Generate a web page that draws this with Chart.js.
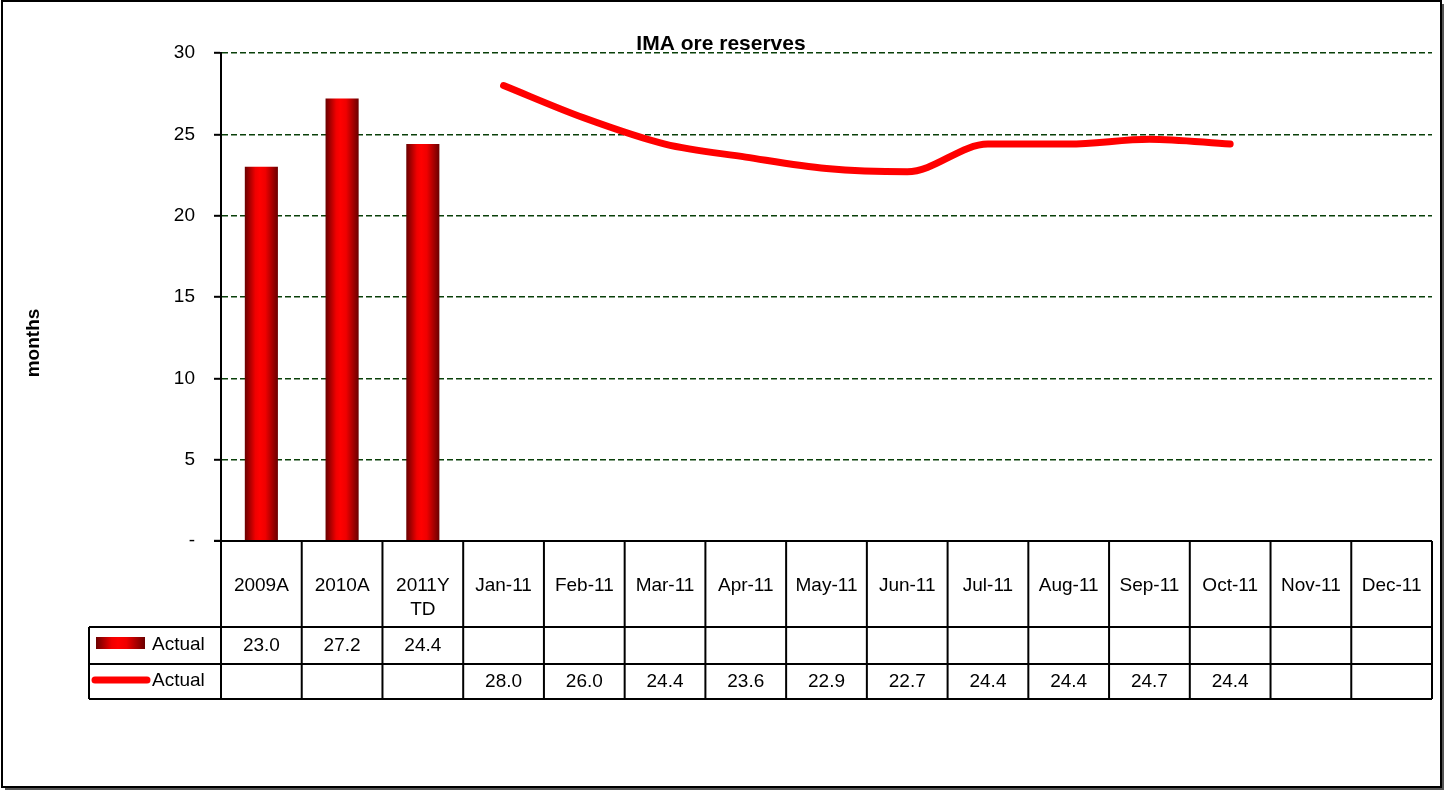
<!DOCTYPE html>
<html>
<head>
<meta charset="utf-8">
<title>IMA ore reserves</title>
<script src="https://cdn.jsdelivr.net/npm/chart.js@4/dist/chart.umd.min.js"></script>
<style>
  html, body { margin: 0; padding: 0; background: #ffffff; }
  #wrap { width: 1449px; height: 792px; position: relative; }
</style>
</head>
<body>
<div id="wrap"><canvas id="grafico" width="1449" height="792"></canvas></div>
<script>
// Dados do gráfico
const categorias = ['2009A', '2010A', ['2011Y', 'TD'], 'Jan-11', 'Feb-11', 'Mar-11', 'Apr-11',
    'May-11', 'Jun-11', 'Jul-11', 'Aug-11', 'Sep-11', 'Oct-11', 'Nov-11', 'Dec-11'];
const barrasAnuais = [23.0, 27.2, 24.4, null, null, null, null, null, null, null, null, null, null, null, null];
const linhaMensal = [null, null, null, 28.0, 26.0, 24.4, 23.6, 22.9, 22.7, 24.4, 24.4, 24.7, 24.4, null, null];
const ticksY = [0, 5, 10, 15, 20, 25, 30];
const rotuloSerie = 'Actual';

const FONTE = '"Liberation Sans", Arial, sans-serif';
const LARG_BARRA = 0.41;

// Gradiente horizontal das barras (escuro - vermelho - escuro)
function gradienteBarra(ctx, x0, x1) {
    const g = ctx.createLinearGradient(x0, 0, x1, 0);
    g.addColorStop(0, '#6a0000');
    g.addColorStop(0.32, '#f00000');
    g.addColorStop(0.45, '#ff0000');
    g.addColorStop(0.62, '#f00000');
    g.addColorStop(1, '#6a0000');
    return g;
}

function corBarra(c) {
    const chart = c.chart;
    const area = chart.chartArea;
    if (!area || c.dataIndex === undefined || !chart.scales.x) return '#d00000';
    const x = chart.scales.x.getPixelForValue(c.dataIndex);
    const meia = (area.width / categorias.length) * LARG_BARRA / 2;
    return gradienteBarra(chart.ctx, x - meia, x + meia);
}

// Tabela de dados, título e moldura (estilo Excel)
const pluginTabela = {
    id: 'tabelaDados',
    afterDraw(chart) {
        const ctx = chart.ctx;
        const area = chart.chartArea;
        const sx = chart.scales.x;
        const n = categorias.length;
        const passo = area.width / n;
        const yTopo = area.bottom;
        const yL1 = 627, yL2 = 664, yFim = 699;
        const xLeg = 89;

        ctx.save();
        ctx.setLineDash([]);
        ctx.strokeStyle = '#000';
        ctx.lineWidth = 2;
        ctx.beginPath();
        // eixo Y sólido
        ctx.moveTo(area.left, area.top); ctx.lineTo(area.left, yTopo);
        // linhas horizontais
        ctx.moveTo(area.left - 7, yTopo); ctx.lineTo(area.right, yTopo);
        ctx.moveTo(xLeg, yL1); ctx.lineTo(area.right, yL1);
        ctx.moveTo(xLeg, yL2); ctx.lineTo(area.right, yL2);
        ctx.moveTo(xLeg, yFim); ctx.lineTo(area.right, yFim);
        // linhas verticais
        for (let i = 0; i <= n; i++) {
            const x = area.left + i * passo;
            ctx.moveTo(x, yTopo); ctx.lineTo(x, yFim);
        }
        ctx.moveTo(xLeg, yL1); ctx.lineTo(xLeg, yFim);
        ctx.stroke();

        ctx.fillStyle = '#000';
        ctx.font = '19px ' + FONTE;
        ctx.textAlign = 'center';
        ctx.textBaseline = 'middle';
        categorias.forEach((cat, i) => {
            const x = sx.getPixelForValue(i);
            const linhas = Array.isArray(cat) ? cat : [cat];
            linhas.forEach((t, j) => ctx.fillText(t, x, 586 + j * 24));
            if (barrasAnuais[i] !== null) ctx.fillText(barrasAnuais[i].toFixed(1), x, 646);
            if (linhaMensal[i] !== null) ctx.fillText(linhaMensal[i].toFixed(1), x, 682);
        });

        // legenda dentro da tabela
        ctx.fillStyle = gradienteBarra(ctx, 96, 145);
        ctx.fillRect(96, 637, 49, 12);
        ctx.strokeStyle = '#ff0000';
        ctx.lineWidth = 7;
        ctx.lineCap = 'round';
        ctx.beginPath();
        ctx.moveTo(95, 680); ctx.lineTo(147, 680);
        ctx.stroke();
        ctx.fillStyle = '#000';
        ctx.textAlign = 'left';
        ctx.fillText(rotuloSerie, 152, 645);
        ctx.fillText(rotuloSerie, 152, 681);

        // título
        ctx.font = 'bold 21px ' + FONTE;
        ctx.textAlign = 'center';
        ctx.fillText('IMA ore reserves', 721, 44);

        // título do eixo Y
        ctx.save();
        ctx.translate(34, 343);
        ctx.rotate(-Math.PI / 2);
        ctx.font = 'bold 19px ' + FONTE;
        ctx.fillText('months', 0, 0);
        ctx.restore();

        // moldura com sombra
        ctx.lineCap = 'butt';
        ctx.strokeStyle = '#000';
        ctx.lineWidth = 2;
        ctx.strokeRect(2, 1, 1439, 786);
        ctx.strokeStyle = '#555';
        ctx.beginPath();
        ctx.moveTo(1443, 4); ctx.lineTo(1443, 789); ctx.lineTo(5, 789);
        ctx.stroke();
        ctx.restore();
    }
};

new Chart(document.getElementById('grafico'), {
    type: 'bar',
    data: {
        labels: categorias,
        datasets: [{
            type: 'line',
            label: rotuloSerie,
            data: linhaMensal,
            borderColor: '#ff0000',
            borderWidth: 7,
            borderCapStyle: 'round',
            borderJoinStyle: 'round',
            cubicInterpolationMode: 'monotone',
            pointRadius: 0,
            fill: false,
            order: 0
        }, {
            label: rotuloSerie,
            data: barrasAnuais,
            backgroundColor: corBarra,
            borderWidth: 0,
            categoryPercentage: 1,
            barPercentage: LARG_BARRA,
            order: 1
        }]
    },
    options: {
        responsive: false,
        animation: false,
        layout: { padding: { top: 53, bottom: 251, left: 91, right: 17 } },
        plugins: {
            legend: { display: false },
            tooltip: { enabled: false },
            title: { display: false }
        },
        scales: {
            x: { display: false },
            y: {
                min: 0,
                max: 30,
                afterFit: (scale) => { scale.width = 130; },
                afterBuildTicks: (scale) => { scale.ticks = ticksY.map(v => ({ value: v })); },
                ticks: {
                    padding: 19,
                    color: '#000',
                    font: { family: FONTE, size: 19 },
                    callback: (v) => v === 0 ? '-' : v
                },
                grid: {
                    color: '#0a400a',
                    lineWidth: 1.6,
                    tickLength: 7,
                    tickColor: '#000',
                    tickWidth: 2,
                    tickBorderDash: []
                },
                border: { color: '#000', width: 2, dash: [6, 3] }
            }
        }
    },
    plugins: [pluginTabela]
});
</script>
</body>
</html>
